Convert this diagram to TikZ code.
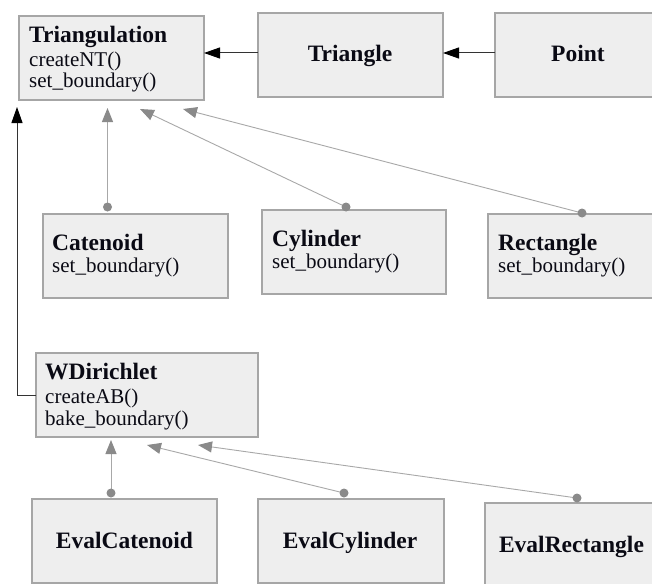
\documentclass[tikz,border=0pt]{standalone}
\usepackage{fontspec}
\setmainfont{Liberation Serif}
\usetikzlibrary{arrows.meta}
\definecolor{boxfill}{HTML}{EEEEEE}
\definecolor{boxline}{HTML}{A6A6A6}
\definecolor{inhline}{HTML}{A8A8A8}
\definecolor{inhhead}{HTML}{8A8A8A}
\definecolor{txtc}{HTML}{0A0A14}
\tikzset{
  cls/.style={draw=boxline, fill=boxfill, line width=1.2pt, inner sep=0pt, outer sep=0pt, anchor=north west},
  txt/.style={anchor=base west, inner sep=0pt, text=txtc, font=\fontsize{21}{22}\selectfont},
  ttl/.style={txt, font=\bfseries\fontsize{23.5}{24}\selectfont},
  ctl/.style={ttl, anchor=base},
  inh/.style={draw=inhline, line width=0.9pt, -{Triangle[length=14pt,width=11pt,fill=inhhead,color=inhhead]}},
  dotnode/.style={circle, fill=inhhead, inner sep=0pt, minimum size=9pt},
  assoc/.style={draw=black!80, line width=1pt, -{Triangle[length=16pt,width=11pt,fill=black,color=black]}}
}
\begin{document}
\begin{tikzpicture}[x=1pt,y=-1pt]
\useasboundingbox (0,0) rectangle (652,583);
\clip (0,0) rectangle (652,583);
\fill[white] (0,0) rectangle (652,583);

% boxes
\node[cls, minimum width=185, minimum height=84] (tri) at (19,16) {};
\node[cls, minimum width=185, minimum height=84] (triangle) at (258,13) {};
\node[cls, minimum width=166, minimum height=84] (point) at (495,13) {};
\node[cls, minimum width=185, minimum height=84] (cat) at (43,214) {};
\node[cls, minimum width=184, minimum height=84] (cyl) at (262,210) {};
\node[cls, minimum width=185, minimum height=84] (rect) at (488,214) {};
\node[cls, minimum width=222, minimum height=84] (wd) at (36,353) {};
\node[cls, minimum width=185, minimum height=84] (ecat) at (32,499) {};
\node[cls, minimum width=186, minimum height=84] (ecyl) at (258,499) {};
\node[cls, minimum width=173, minimum height=84] (erect) at (485,503) {};

% texts
\node[ttl] (triT) at (29,43) {Triangulation};
\node[txt] (triA) at (29,67) {createNT()};
\node[txt] (triB) at (29,88) {set\_boundary()};
\node[ctl] (triangleT) at (350,62) {Triangle};
\node[ctl] (pointT) at (578,62) {Point};
\node[ttl] (catT) at (52,250) {Catenoid};
\node[txt] (catA) at (52,272) {set\_boundary()};
\node[ttl] (cylT) at (272,246) {Cylinder};
\node[txt] (cylA) at (272,268) {set\_boundary()};
\node[ttl] (rectT) at (498,250) {Rectangle};
\node[txt] (rectA) at (498,272) {set\_boundary()};
\node[ttl] (wdT) at (45,379) {WDirichlet};
\node[txt] (wdA) at (45,403) {createAB()};
\node[txt] (wdB) at (45,425) {bake\_boundary()};
\node[ctl] (ecatT) at (124.5,548) {EvalCatenoid};
\node[ctl] (ecylT) at (350,548) {EvalCylinder};
\node[ctl] (erectT) at (571.5,552) {EvalRectangle};

% associations
\coordinate (hy) at (0,53);
\draw[assoc] (triangle.west |- hy) -- (tri.east |- hy);
\draw[assoc] (point.west |- hy) -- (triangle.east |- hy);
\coordinate (up1) at ([xshift=-2pt,yshift=-7pt]tri.south west);
\draw[assoc] (wd.west) -| (up1);

% inheritance
\draw[inh] ([xshift=-28pt,yshift=7pt]cat.north) node[dotnode] (d1) {} -- ([xshift=-4pt,yshift=-8pt]tri.south);
\draw[inh] ([xshift=-8pt,yshift=3pt]cyl.north) node[dotnode] (d2) {} -- ([xshift=28.5pt,yshift=-9pt]tri.south);
\draw[inh] ([xshift=1.5pt,yshift=1pt]rect.north) node[dotnode] (d3) {} -- ([xshift=71.5pt,yshift=-9pt]tri.south);
\draw[inh] ([xshift=-13.5pt,yshift=6pt]ecat.north) node[dotnode] (d4) {} -- ([xshift=-36pt,yshift=-3pt]wd.south);
\draw[inh] ([xshift=-7pt,yshift=6pt]ecyl.north) node[dotnode] (d5) {} -- ([xshift=0pt,yshift=-8pt]wd.south);
\draw[inh] ([xshift=5.5pt,yshift=5pt]erect.north) node[dotnode] (d6) {} -- ([xshift=51pt,yshift=-8pt]wd.south);
\end{tikzpicture}
\end{document}
